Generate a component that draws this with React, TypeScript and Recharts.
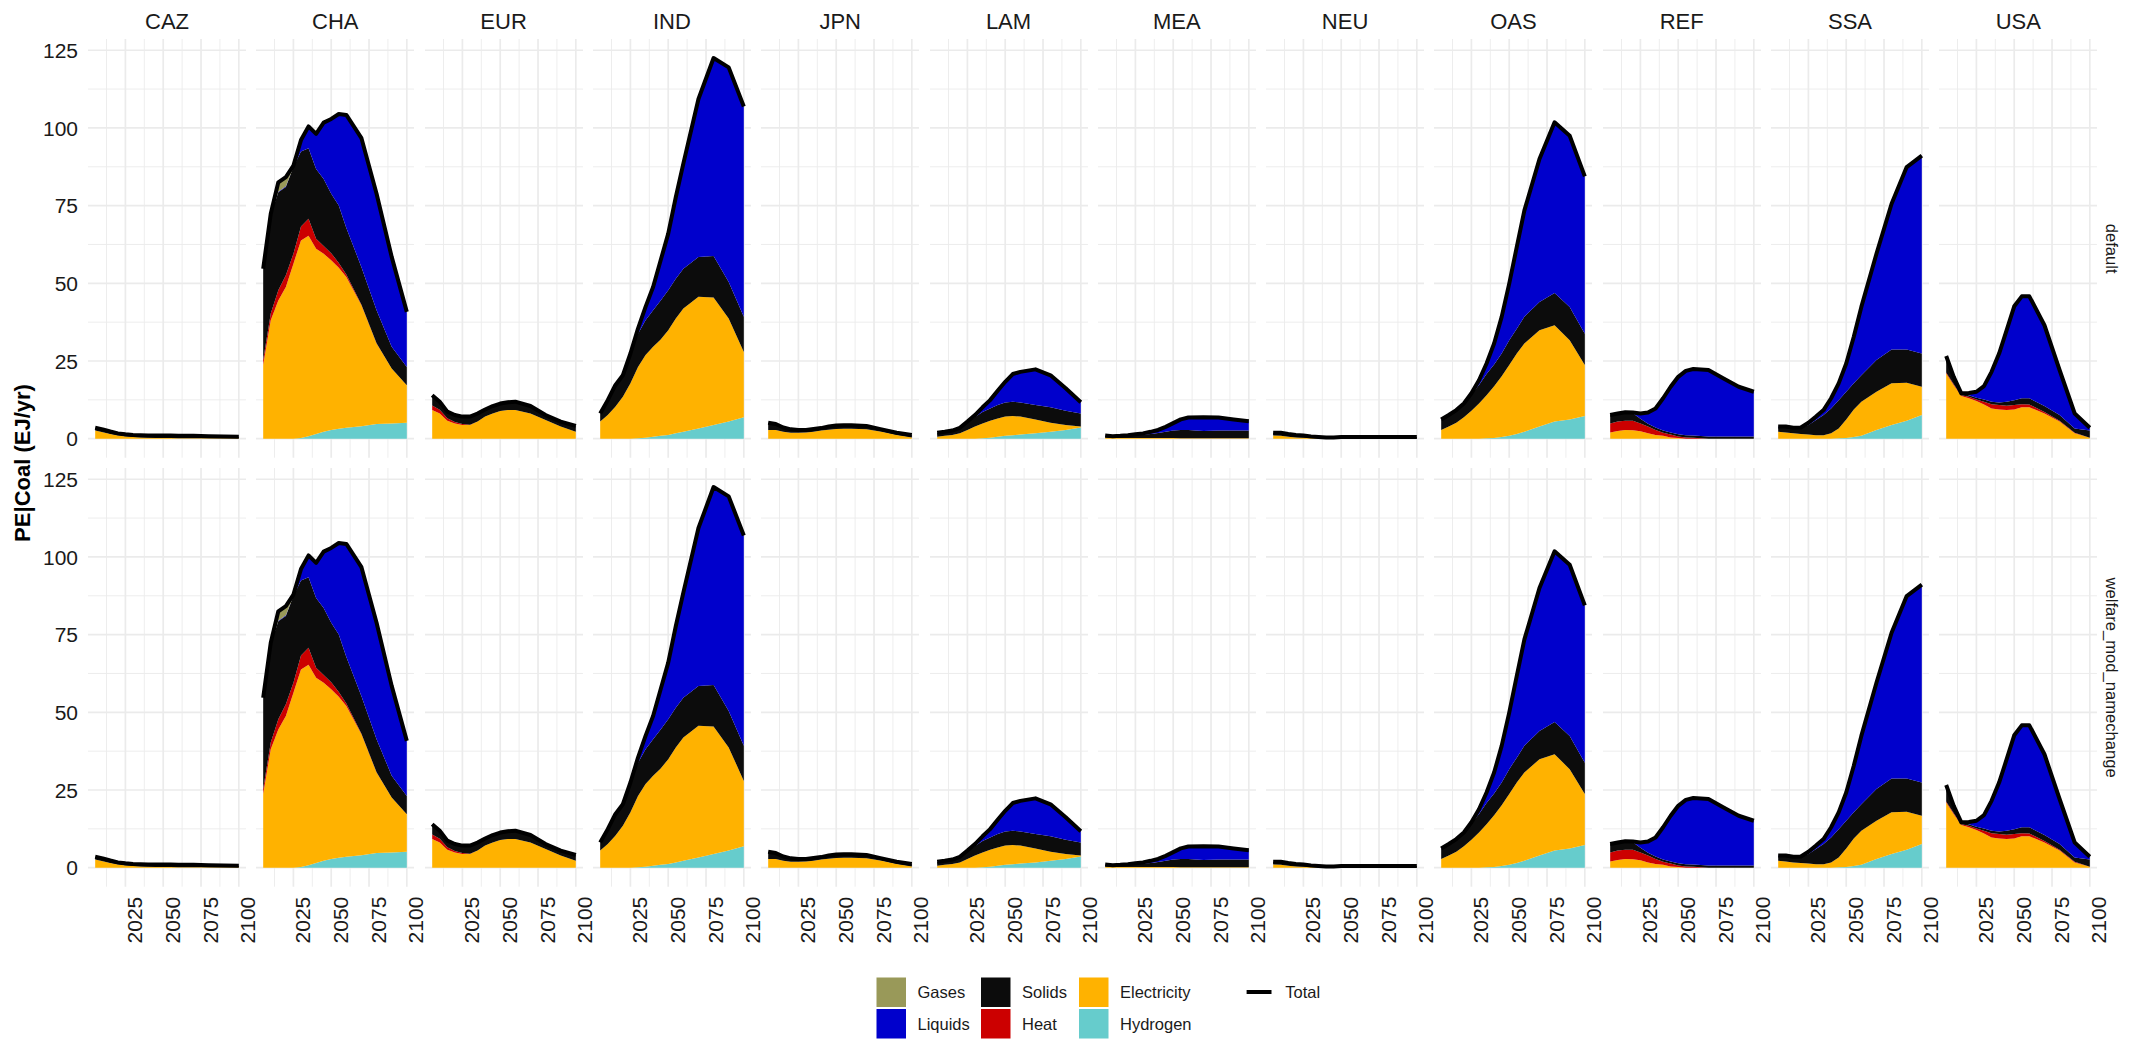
import React from 'react';
import { ComposedChart, Area, Line, XAxis, YAxis, CartesianGrid } from 'recharts';

// ---------------- data ----------------
const years = [2005, 2010, 2015, 2020, 2025, 2030, 2035, 2040, 2045, 2050, 2055, 2060, 2070, 2080, 2090, 2100];
const regions = ['CAZ', 'CHA', 'EUR', 'IND', 'JPN', 'LAM', 'MEA', 'NEU', 'OAS', 'REF', 'SSA', 'USA'];
const scenarios = ['default', 'welfare_mod_namechange'];
const xTicks = [2025, 2050, 2075, 2100];
const xMinor = [2012.5, 2037.5, 2062.5, 2087.5];
const yTicks = [0, 25, 50, 75, 100, 125];
const yMinor = [12.5, 37.5, 62.5, 87.5, 112.5];

const Z = [0, 0, 0, 0, 0, 0, 0, 0, 0, 0, 0, 0, 0, 0, 0, 0];

const hydrogen: Record<string, number[]> = {
  CAZ: Z,
  CHA: [0, 0, 0, 0, 0, 0.2, 0.8, 1.5, 2.2, 2.8, 3.2, 3.5, 4.0, 4.7, 4.9, 5.1],
  EUR: Z,
  IND: [0, 0, 0, 0, 0, 0.1, 0.3, 0.6, 0.9, 1.2, 1.7, 2.2, 3.3, 4.4, 5.5, 6.9],
  JPN: Z,
  LAM: [0, 0, 0, 0, 0, 0, 0.1, 0.3, 0.6, 0.9, 1.1, 1.3, 1.7, 2.2, 2.8, 3.6],
  MEA: Z,
  NEU: Z,
  OAS: [0, 0, 0, 0, 0, 0, 0.1, 0.2, 0.5, 0.9, 1.5, 2.2, 3.9, 5.5, 6.2, 7.3],
  REF: Z,
  SSA: [0, 0, 0, 0, 0, 0, 0, 0, 0.1, 0.2, 0.5, 0.9, 2.8, 4.4, 5.8, 7.6],
  USA: Z,
};

const electricity: Record<string, number[]> = {
  CAZ: [2.6, 2.1, 1.5, 1.0, 0.7, 0.5, 0.4, 0.3, 0.25, 0.2, 0.2, 0.15, 0.1, 0.1, 0.1, 0.1],
  CHA: [23.7, 38.1, 44.5, 48.8, 56.3, 63.6, 64.5, 59.6, 57.3, 54.6, 51.8, 48.5, 38.9, 25.9, 17.7, 12.1],
  EUR: [9.2, 8.1, 5.8, 4.9, 4.4, 4.4, 5.5, 7.1, 8.1, 8.9, 9.2, 9.2, 8.1, 6.0, 3.9, 2.2],
  IND: [5.5, 7.6, 10.3, 13.5, 17.8, 23.0, 26.6, 29.0, 31.0, 33.7, 37.0, 39.7, 42.4, 41.0, 33.2, 21.0],
  JPN: [2.8, 2.8, 2.2, 1.9, 1.9, 2.0, 2.2, 2.6, 2.9, 3.1, 3.2, 3.2, 3.0, 2.2, 1.2, 0.4],
  LAM: [0.6, 0.9, 1.2, 1.7, 2.8, 3.9, 4.8, 5.5, 5.9, 6.2, 6.2, 5.8, 4.5, 2.9, 1.6, 0.3],
  MEA: [0.3, 0.2, 0.2, 0.2, 0.2, 0.2, 0.2, 0.2, 0.2, 0.2, 0.1, 0.1, 0.1, 0.1, 0.1, 0.1],
  NEU: [1.0, 0.9, 0.6, 0.4, 0.3, 0.2, 0.1, 0.05, 0.05, 0.05, 0.05, 0.05, 0.05, 0.05, 0.05, 0.05],
  OAS: [2.8, 3.9, 5.1, 6.9, 9.0, 11.3, 13.9, 16.7, 19.6, 22.8, 25.9, 28.4, 31.0, 31.0, 25.5, 16.4],
  REF: [2.0, 2.5, 2.8, 2.7, 2.4, 1.7, 1.2, 0.9, 0.4, 0.2, 0, 0, 0, 0, 0, 0],
  SSA: [2.2, 2.0, 1.7, 1.5, 1.3, 1.1, 1.1, 1.7, 3.2, 6.0, 8.9, 11.0, 12.3, 13.4, 12.2, 9.1],
  USA: [21.0, 17.2, 13.7, 13.0, 12.1, 11.0, 9.7, 9.4, 9.2, 9.4, 10.1, 10.1, 8.1, 5.5, 1.7, 0.3],
};

const heat: Record<string, number[]> = {
  CAZ: Z,
  CHA: [1.6, 2.2, 3.3, 3.8, 3.2, 4.5, 5.5, 3.2, 2.5, 2.3, 1.5, 0.8, 0.2, 0.1, 0, 0],
  EUR: [1.5, 1.2, 0.8, 0.5, 0.3, 0.1, 0, 0, 0, 0, 0, 0, 0, 0, 0, 0],
  IND: Z,
  JPN: Z,
  LAM: Z,
  MEA: Z,
  NEU: Z,
  OAS: Z,
  REF: [2.9, 3.0, 3.0, 3.1, 2.5, 2.2, 1.6, 1.0, 0.9, 0.5, 0.4, 0.3, 0, 0, 0, 0],
  SSA: Z,
  USA: [0.3, 0.3, 0.3, 0.5, 0.5, 0.9, 1.4, 1.4, 1.4, 1.4, 1.0, 0.9, 0.5, 0.3, 0.2, 0],
};

const solids: Record<string, number[]> = {
  CAZ: [0.9, 0.9, 0.8, 0.7, 0.7, 0.7, 0.7, 0.7, 0.75, 0.8, 0.8, 0.8, 0.8, 0.7, 0.6, 0.5],
  CHA: [29.2, 31.7, 31.5, 28.4, 27.9, 24.1, 22.7, 22.5, 21.6, 19.1, 18.5, 15.0, 12.1, 10.6, 7.0, 5.9],
  EUR: [3.3, 2.6, 2.1, 2.2, 2.4, 2.6, 2.6, 2.3, 2.4, 2.4, 2.5, 2.7, 2.4, 1.6, 1.6, 1.9],
  IND: [2.5, 4.6, 6.7, 6.7, 9.2, 10.7, 11.2, 11.7, 12.6, 12.9, 12.8, 12.8, 12.8, 13.4, 11.7, 11.3],
  JPN: [2.3, 1.9, 1.4, 1.1, 0.9, 0.8, 0.9, 0.8, 1.0, 1.1, 1.1, 1.1, 1.1, 0.8, 0.7, 0.8],
  LAM: [1.2, 1.2, 1.3, 1.6, 2.4, 3.1, 3.7, 3.9, 4.3, 4.5, 4.6, 4.5, 4.6, 5.0, 4.6, 4.2],
  MEA: [0.6, 0.6, 0.6, 0.7, 0.9, 1.1, 1.3, 1.6, 2.0, 2.4, 2.7, 2.7, 2.4, 2.5, 2.5, 2.5],
  NEU: [0.9, 1.0, 0.9, 0.8, 0.7, 0.5, 0.4, 0.3, 0.35, 0.45, 0.45, 0.45, 0.45, 0.45, 0.45, 0.45],
  OAS: [3.2, 3.5, 3.9, 4.2, 5.2, 6.0, 6.8, 7.0, 7.3, 8.0, 8.0, 8.6, 9.1, 10.4, 10.7, 10.1],
  REF: [2.7, 2.6, 2.5, 2.4, 1.5, 0.9, 0.8, 0.7, 0.7, 0.7, 0.7, 0.7, 0.7, 0.7, 0.7, 0.7],
  SSA: [1.5, 1.7, 1.6, 1.9, 3.1, 4.9, 6.5, 8.0, 9.1, 8.9, 8.4, 8.5, 10.2, 10.9, 10.7, 10.7],
  USA: [5.0, 1.9, 0.6, 0.5, 0.6, 0.7, 0.8, 0.8, 1.3, 1.6, 1.9, 2.0, 1.9, 1.8, 1.4, 2.3],
};

const liquids: Record<string, number[]> = {
  CAZ: Z,
  CHA: [0, 0, 0.2, 0.2, 0, 3.4, 6.8, 11.3, 18.1, 24.1, 29.5, 36.4, 41.5, 37.5, 28.9, 17.7],
  EUR: Z,
  IND: [0.1, 0.2, 0.2, 0.2, 0.4, 1.6, 4.3, 7.5, 12.9, 18.2, 26.2, 33.8, 50.8, 63.7, 69.1, 67.7],
  JPN: Z,
  LAM: [0.1, 0.1, 0.1, 0.2, 0.3, 0.6, 1.5, 2.7, 4.6, 6.7, 8.9, 9.9, 11.5, 10.3, 7.2, 3.6],
  MEA: [0.1, 0, 0.1, 0.2, 0.3, 0.4, 0.7, 1.0, 1.6, 2.4, 3.4, 4.0, 4.4, 4.2, 3.6, 3.0],
  NEU: Z,
  OAS: [0.2, 0.2, 0.2, 0.2, 0.4, 1.5, 3.4, 6.7, 11.8, 18.2, 26.3, 34.2, 46.0, 54.9, 55.1, 50.6],
  REF: [0, 0, 0.2, 0.2, 1.7, 3.6, 6.1, 10.4, 14.7, 18.5, 20.7, 21.4, 21.4, 18.7, 16.0, 14.4],
  SSA: [0.2, 0.2, 0.2, 0.2, 0.7, 1.1, 1.6, 3.3, 5.4, 9.1, 15.0, 22.0, 34.2, 46.9, 58.7, 63.7],
  USA: [0.3, 0.5, 0, 0.7, 1.9, 4.3, 9.6, 15.8, 23.0, 30.2, 32.8, 32.8, 26.0, 14.5, 4.8, 0.9],
};

const gases: Record<string, number[]> = {
  CAZ: Z,
  CHA: [0.2, 0.4, 3.0, 3.0, 0.5, 0.3, 0.2, 0, 0, 0, 0, 0, 0, 0, 0, 0],
  EUR: Z, IND: Z, JPN: Z, LAM: Z, MEA: Z, NEU: Z, OAS: Z, REF: Z, SSA: Z, USA: Z,
};

// stacking order, bottom to top
const carriers = [
  { name: 'Hydrogen', color: '#66CCCC', values: hydrogen },
  { name: 'Electricity', color: '#FFB200', values: electricity },
  { name: 'Heat', color: '#CC0000', values: heat },
  { name: 'Solids', color: '#0C0C0C', values: solids },
  { name: 'Liquids', color: '#0000CC', values: liquids },
  { name: 'Gases', color: '#999959', values: gases },
];
// legend order (column-major, 2 rows)
const legendOrder = ['Gases', 'Liquids', 'Solids', 'Heat', 'Electricity', 'Hydrogen'];

function buildRows(region: string) {
  return years.map((year, i) => {
    const row: Record<string, number> = { year };
    let total = 0;
    carriers.forEach((c) => {
      const v = c.values[region][i];
      row[c.name] = v;
      total += v;
    });
    row.Total = total;
    return row;
  });
}

const regionRows: Record<string, Record<string, number>[]> = {};
regions.forEach((r) => { regionRows[r] = buildRows(r); });

const maxTotal = Math.max(...regions.flatMap((r) => regionRows[r].map((d) => d.Total)));
const yDomain: [number, number] = [-0.05 * maxTotal, maxTotal * 1.05];
const xSpan = years[years.length - 1] - years[0];
const xDomain: [number, number] = [years[0] - 0.05 * xSpan, years[years.length - 1] + 0.05 * xSpan];

// ---------------- layout ----------------
const FONT = '"Liberation Sans", Arial, Helvetica, sans-serif';
const PANEL_W = 158;
const PANEL_H = 418.7;
const STEP = 168.3;
const LEFT0 = 88;
const ROW_TOP = [39.3, 468.3];
const YAXIS_W = 60;
const XAXIS_H = 70;
const GRID = '#EBEBEB';
const TEXT = '#1A1A1A';

const XTick = (props: any) => {
  const { x, y, payload } = props;
  const bx = x + 16.5;
  return (
    <text x={bx} y={y} transform={`rotate(-90, ${bx}, ${y})`} textAnchor="end"
      fontSize={21} fontFamily={FONT} fill={TEXT}>
      {payload.value}
    </text>
  );
};

const YTick = (props: any) => {
  const { x, y, payload } = props;
  return (
    <text x={x} y={y} dy="0.36em" textAnchor="end" fontSize={21} fontFamily={FONT} fill={TEXT}>
      {payload.value}
    </text>
  );
};

function Panel({ region, row, col }: { region: string; row: number; col: number }) {
  const first = col === 0;
  const bottom = row === 1;
  const width = PANEL_W + (first ? YAXIS_W : 0);
  const height = PANEL_H + (bottom ? XAXIS_H : 0);
  const left = LEFT0 + col * STEP - (first ? YAXIS_W : 0);
  const top = ROW_TOP[row];
  return (
    <div style={{ position: 'absolute', left, top, width, height }}>
      <ComposedChart width={width} height={height} data={regionRows[region]}
        margin={{ top: 0, right: 0, bottom: 0, left: 0 }}>
        <CartesianGrid horizontalValues={yMinor} verticalValues={xMinor} stroke={GRID} strokeWidth={0.9} />
        <CartesianGrid horizontalValues={yTicks} verticalValues={xTicks} stroke={GRID} strokeWidth={1.7} />
        <XAxis dataKey="year" type="number" domain={xDomain} ticks={xTicks} allowDataOverflow
          hide={!bottom} height={bottom ? XAXIS_H : 0} axisLine={false} tickLine={false}
          tickSize={0} tickMargin={10} tick={<XTick />} interval={0} />
        <YAxis type="number" domain={yDomain} ticks={yTicks} allowDataOverflow
          hide={!first} width={first ? YAXIS_W : 0} axisLine={false} tickLine={false}
          tickSize={0} tickMargin={10} tick={<YTick />} interval={0} />
        {carriers.map((c) => (
          <Area key={c.name} type="linear" dataKey={c.name} stackId="s" stroke="none"
            fill={c.color} fillOpacity={1} isAnimationActive={false} dot={false} activeDot={false} />
        ))}
        <Line type="linear" dataKey="Total" stroke="#000000" strokeWidth={4} dot={false}
          activeDot={false} isAnimationActive={false} strokeLinejoin="round" />
      </ComposedChart>
    </div>
  );
}

function Overlay() {
  const colorOf = (n: string) => carriers.find((c) => c.name === n)!.color;
  const legX = [876.5, 981, 1079];
  const legY = [977.5, 1009];
  const SW = 29.5;
  return (
    <svg width={2143} height={1043} style={{ position: 'absolute', left: 0, top: 0, pointerEvents: 'none' }}>
      {regions.map((r, c) => (
        <text key={r} x={LEFT0 + c * STEP + PANEL_W / 2} y={29.3} textAnchor="middle"
          fontSize={22} fontFamily={FONT} fill={TEXT}>{r}</text>
      ))}
      {scenarios.map((s, i) => {
        const cy = ROW_TOP[i] + PANEL_H / 2;
        return (
          <text key={s} x={2106} y={cy} transform={`rotate(90, 2106, ${cy})`} textAnchor="middle"
            fontSize={16.6} fontFamily={FONT} fill={TEXT}>{s}</text>
        );
      })}
      <text x={30} y={463} transform="rotate(-90, 30, 463)" textAnchor="middle" fontSize={22}
        fontWeight="bold" fontFamily={FONT} fill="#000">PE|Coal (EJ/yr)</text>
      {legendOrder.map((n, i) => {
        const cx = legX[Math.floor(i / 2)];
        const cy = legY[i % 2];
        return (
          <g key={n}>
            <rect x={cx} y={cy} width={SW} height={SW} fill={colorOf(n)} />
            <text x={cx + 41} y={cy + SW / 2} dy="0.36em" fontSize={16.5} fontFamily={FONT} fill={TEXT}>{n}</text>
          </g>
        );
      })}
      <line x1={1246.6} x2={1271.5} y1={992} y2={992} stroke="#000" strokeWidth={4} />
      <text x={1285.3} y={992} dy="0.36em" fontSize={16.5} fontFamily={FONT} fill={TEXT}>Total</text>
    </svg>
  );
}

export default function App() {
  return (
    <div style={{ position: 'absolute', left: 0, top: 0, width: 2143, height: 1043, background: '#FFFFFF', fontFamily: FONT }}>
      <style>{'.recharts-surface { overflow: visible; } .recharts-wrapper { overflow: visible; }'}</style>
      {scenarios.map((s, row) =>
        regions.map((r, col) => <Panel key={`${s}-${r}`} region={r} row={row} col={col} />)
      )}
      <Overlay />
    </div>
  );
}
